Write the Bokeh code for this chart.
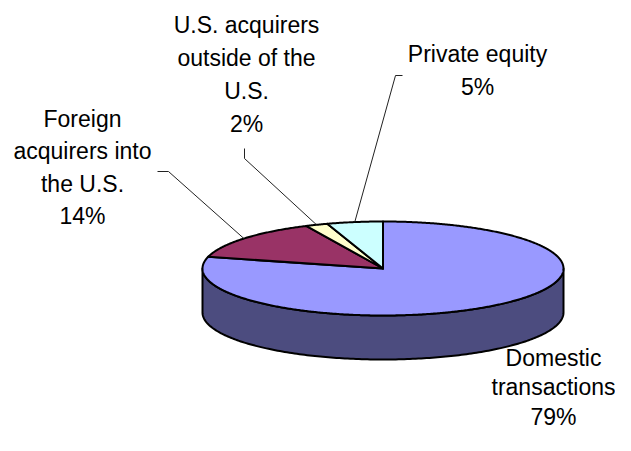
import numpy as np
from bokeh.plotting import figure
from bokeh.models import Range1d, ColumnDataSource
from bokeh.embed import file_html
from bokeh.resources import INLINE
from bokeh.core.properties import value

# ---- data ----
categories = ["Domestic transactions", "Foreign acquirers into the U.S.",
              "U.S. acquirers outside of the U.S.", "Private equity"]
shares = [79, 14, 2, 5]
label_names = ["Domestic\ntransactions", "Foreign\nacquirers into\nthe U.S.",
               "U.S. acquirers\noutside of the\nU.S.", "Private equity"]

# ---- styling / layout ----
top_colors = ["#9999FF", "#993366", "#FFFFCC", "#CCFFFF"]
# label anchor: (centre x, first-line position, line step) in pixels
label_anchor = [(553, 357, 29.5), (82, 118, 32.5), (246, 24, 33), (477, 53, 33)]
# leader elbow points (label end, elbow)
leader_start = [None, [(157, 171), (168, 171)], [(244, 148), (244, 158)],
                [(402, 75), (395, 75)]]
CX, CY, RX, RY, DEPTH = 382.5, 268, 180.5, 47, 44

W, H = 615, 435
p = figure(width=W, height=H, output_backend="svg", toolbar_location=None,
           x_range=Range1d(0, W), y_range=Range1d(H, 0),
           x_axis_location=None, y_axis_location=None, min_border=0,
           outline_line_color=None, background_fill_color="white")
p.xgrid.visible = False
p.ygrid.visible = False


def shade(hexc, f=0.5):
    r, g, b = (int(hexc[i:i + 2], 16) for i in (1, 3, 5))
    return "#%02X%02X%02X" % (int(r * f), int(g * f), int(b * f))


def ex(a):
    return CX + RX * np.cos(np.radians(a))


def ey(a, dz=0.0):
    return CY - RY * np.sin(np.radians(a)) + dz


total = float(sum(shares))
cum = np.concatenate([[0], np.cumsum(shares)])
starts = 90 - 360 * cum[:-1] / total
ends = 90 - 360 * cum[1:] / total

# side walls (front half only)
for i in range(len(shares)):
    a0, a1 = starts[i], ends[i]  # a1 < a0
    for k in (-1, 0, 1):
        lo, hi = k * 360 - 180, k * 360
        s, e = max(a1, lo), min(a0, hi)
        if e - s <= 0:
            continue
        t = np.linspace(s, e, 200)
        xs = np.concatenate([ex(t), ex(t[::-1])])
        ys = np.concatenate([ey(t), ey(t[::-1], DEPTH)])
        p.patch(xs, ys, fill_color=shade(top_colors[i]), line_color="black",
                line_width=2, line_join="round")

# top faces
for i in range(len(shares)):
    t = np.linspace(starts[i], ends[i], max(20, int(shares[i] * 8)))
    xs = np.concatenate([[CX], ex(t)])
    ys = np.concatenate([[CY], ey(t)])
    p.patch(xs, ys, fill_color=top_colors[i], line_color="black",
            line_width=2, line_join="round")

# leader lines to the mid-angle of each slice
for i in range(len(shares)):
    if leader_start[i] is None:
        continue
    mid = (starts[i] + ends[i]) / 2
    pts = leader_start[i] + [(ex(mid), ey(mid))]
    p.line([q[0] for q in pts], [q[1] for q in pts], line_color="#222222",
           line_width=1)

# labels
lx, ly, lt = [], [], []
for i in range(len(shares)):
    lines = label_names[i].split("\n") + ["%d%%" % shares[i]]
    x0, y0, step = label_anchor[i]
    for j, ln in enumerate(lines):
        lx.append(x0)
        ly.append(y0 + j * step)
        lt.append(ln)
src = ColumnDataSource(dict(x=lx, y=ly, text=lt))
p.text(x="x", y="y", text="text", source=src, text_align="center",
       text_baseline="alphabetic", text_font=value("Liberation Sans"),
       text_font_size="23px", text_color="black")

open("out.html", "w").write(file_html(p, INLINE))
